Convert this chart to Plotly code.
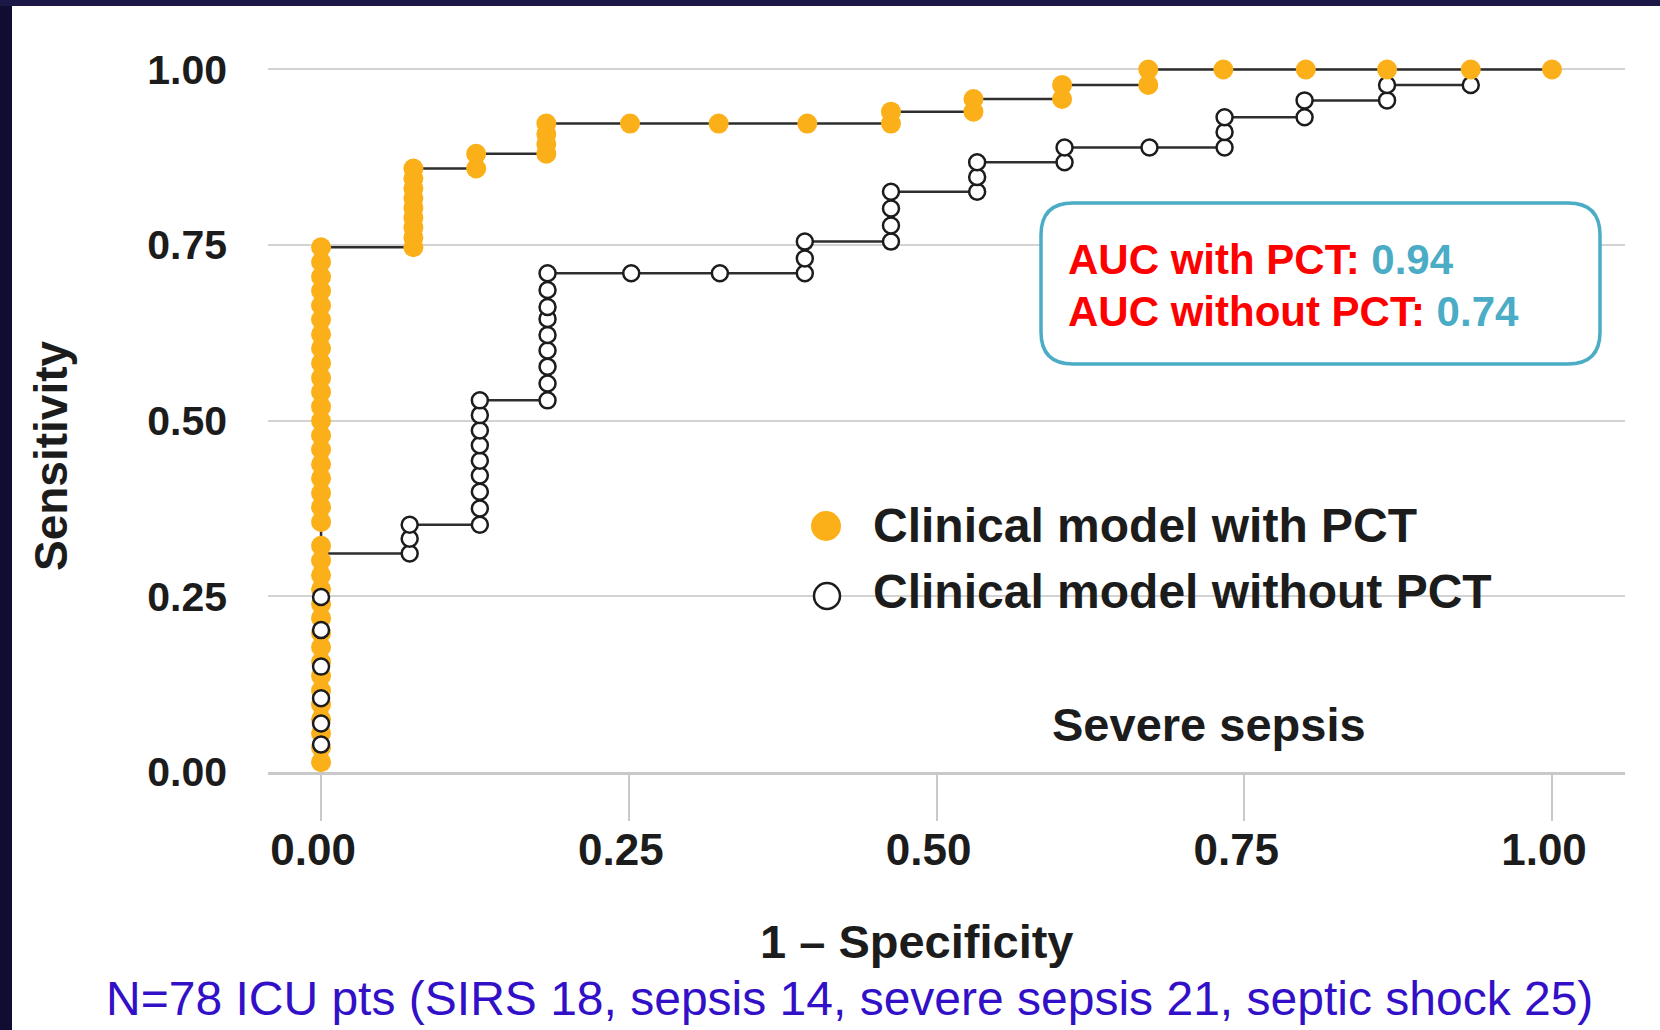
import plotly.graph_objects as go

# ---------------------------------------------------------------------------
# ROC data: each 1 - specificity step and the sensitivities plotted there
# ---------------------------------------------------------------------------
with_pct_fpr = [0.000, 0.075, 0.126, 0.183, 0.251, 0.323, 0.395, 0.463,
                0.530, 0.602, 0.672, 0.733, 0.800, 0.866, 0.934, 1.000]
with_pct_tpr = [
    [0.014, 0.035, 0.055, 0.075, 0.096, 0.116, 0.137, 0.157, 0.178, 0.198,
     0.219, 0.239, 0.260, 0.280, 0.301, 0.322,
     0.356, 0.377, 0.397, 0.418, 0.438, 0.459, 0.479, 0.500, 0.520, 0.541,
     0.561, 0.582, 0.603, 0.623, 0.644, 0.664, 0.685, 0.705, 0.726, 0.747],
    [0.747, 0.761, 0.775, 0.789, 0.803, 0.817, 0.831, 0.845, 0.859],
    [0.859, 0.880],
    [0.880, 0.894, 0.908, 0.923],
    [0.923],
    [0.923],
    [0.923],
    [0.923, 0.940],
    [0.940, 0.958],
    [0.958, 0.978],
    [0.978, 1.000],
    [1.000],
    [1.000],
    [1.000],
    [1.000],
    [1.000],
]

without_pct_fpr = [0.000, 0.072, 0.129, 0.184, 0.252, 0.324, 0.393, 0.463,
                   0.533, 0.604, 0.673, 0.734, 0.799, 0.866, 0.934]
without_pct_tpr = [
    [0.039, 0.069, 0.105, 0.150, 0.202, 0.249],
    [0.311, 0.332, 0.352],
    [0.352, 0.375, 0.399, 0.422, 0.443, 0.465, 0.486, 0.508, 0.529],
    [0.529, 0.553, 0.577, 0.600, 0.622, 0.645, 0.662, 0.686, 0.710],
    [0.710],
    [0.710],
    [0.710, 0.731, 0.755],
    [0.755, 0.778, 0.802, 0.826],
    [0.826, 0.847, 0.868],
    [0.868, 0.889],
    [0.889],
    [0.889, 0.911, 0.932],
    [0.932, 0.956],
    [0.956, 0.978],
    [0.978],
]

tick_vals = [0.00, 0.25, 0.50, 0.75, 1.00]
tick_text = ["0.00", "0.25", "0.50", "0.75", "1.00"]

series_names = ["Clinical model with PCT", "Clinical model without PCT"]
auc_names = ["AUC with PCT: ", "AUC without PCT: "]
auc_values = ["0.94", "0.74"]

ORANGE = "#FBB01A"
DARK = "#1c1c1c"
STEP_LINE = "#2e2e2e"
GRID = "#d3d3d3"
TEAL = "#4BACC6"

# ---------------------------------------------------------------------------
# Page geometry (pixels)
# ---------------------------------------------------------------------------
W, H = 1660, 1030
PL, PR, PT, PB = 268, 1625, 30, 772
X_RANGE = [-0.0431, 1.0593]
Y_RANGE = [0.0, 1.0562]


def px_x(px):
    return (px - PL) / (PR - PL)


def px_y(py):
    return (PB - py) / (PB - PT)


def flatten(fprs, tprs):
    xs, ys = [], []
    for f, col in zip(fprs, tprs):
        for t in col:
            xs.append(f)
            ys.append(t)
    return xs, ys


wx, wy = flatten(with_pct_fpr, with_pct_tpr)
nx, ny = flatten(without_pct_fpr, without_pct_tpr)

fig = go.Figure()

# step curves underneath the points
for xs, ys in ((wx, wy), (nx, ny)):
    fig.add_trace(go.Scatter(
        x=xs, y=ys, mode="lines",
        line=dict(color=STEP_LINE, width=2.5, shape="vh"),
        hoverinfo="skip", showlegend=False, cliponaxis=False))

orange_marker = dict(size=20, color=ORANGE, line=dict(width=0))

# with-PCT points on the vertical axis
fig.add_trace(go.Scatter(
    x=[x for x in wx if x == 0], y=[y for x, y in zip(wx, wy) if x == 0],
    mode="markers", marker=orange_marker, name=series_names[0],
    showlegend=False, cliponaxis=False))

# without-PCT open circles
fig.add_trace(go.Scatter(
    x=nx, y=ny, mode="markers",
    marker=dict(size=16, color="white", line=dict(color=DARK, width=2.5)),
    name=series_names[1], showlegend=False, cliponaxis=False))

# remaining with-PCT points
fig.add_trace(go.Scatter(
    x=[x for x in wx if x > 0], y=[y for x, y in zip(wx, wy) if x > 0],
    mode="markers", marker=orange_marker, name=series_names[0],
    showlegend=False, cliponaxis=False))

bold = dict(family="Liberation Sans, Arial, sans-serif", color=DARK, weight="bold")

shapes = []

# dark slide frame along the left and top edges
shapes.append(dict(type="rect", xref="paper", yref="paper",
                   x0=px_x(0), x1=px_x(12), y0=px_y(H), y1=px_y(0),
                   fillcolor="#100c32", line=dict(width=0), layer="below"))
shapes.append(dict(type="rect", xref="paper", yref="paper",
                   x0=px_x(0), x1=px_x(W), y0=px_y(6), y1=px_y(0),
                   fillcolor="#1b1848", line=dict(width=0), layer="below"))

# legend background hiding the grid behind it
shapes.append(dict(type="rect", xref="paper", yref="paper",
                   x0=px_x(770), x1=px_x(PR + 2), y0=px_y(750), y1=px_y(470),
                   fillcolor="white", line=dict(width=0), layer="between"))

# legend keys
shapes.append(dict(type="circle", xref="paper", yref="paper",
                   x0=px_x(811), x1=px_x(841), y0=px_y(541), y1=px_y(511),
                   fillcolor=ORANGE, line=dict(width=0)))
shapes.append(dict(type="circle", xref="paper", yref="paper",
                   x0=px_x(814), x1=px_x(840), y0=px_y(609), y1=px_y(583),
                   fillcolor="white", line=dict(color=DARK, width=2.5)))


def rounded_box(x0, y0, x1, y1, r):
    pts = [
        ("M", [(x0 + r, y0)]),
        ("L", [(x1 - r, y0)]),
        ("Q", [(x1, y0), (x1, y0 + r)]),
        ("L", [(x1, y1 - r)]),
        ("Q", [(x1, y1), (x1 - r, y1)]),
        ("L", [(x0 + r, y1)]),
        ("Q", [(x0, y1), (x0, y1 - r)]),
        ("L", [(x0, y0 + r)]),
        ("Q", [(x0, y0), (x0 + r, y0)]),
    ]
    out = []
    for cmd, coords in pts:
        out.append(cmd + " " + " ".join(f"{px_x(a):.5f},{px_y(b):.5f}" for a, b in coords))
    return " ".join(out) + " Z"


# AUC call-out box
shapes.append(dict(type="path", xref="paper", yref="paper",
                   path=rounded_box(1041, 203, 1600, 364, 32),
                   fillcolor="white", line=dict(color=TEAL, width=3.5),
                   layer="above"))

annotations = []


def label(text, px, py, size, font=None, xanchor="center", **kw):
    f = dict(bold if font is None else font)
    f["size"] = size
    annotations.append(dict(text=text, x=px_x(px), y=px_y(py), xref="paper", yref="paper",
                            xanchor=xanchor, yanchor="middle", showarrow=False,
                            font=f, **kw))


# legend text
label(series_names[0], 871, 525, 48, xanchor="left")
label(series_names[1], 871, 591, 48, xanchor="left")
label("Severe sepsis", 1209, 724, 47)

# axis titles
label("Sensitivity", 51, 456, 46, textangle=-90)
label("1 \u2013 Specificity", 917, 941, 47)

# AUC text, one line per model
auc_font = dict(family="Liberation Sans, Arial, sans-serif", color="#FF0000", weight="bold")
for i, (n, v) in enumerate(zip(auc_names, auc_values)):
    label(f"<span style='color:#FF0000'>{n}</span><span style='color:{TEAL}'>{v}</span>",
          1066, 259.5 + 52 * i, 42, font=auc_font, xanchor="left")

# footnote
label("N=78 ICU pts (SIRS 18, sepsis 14, severe sepsis 21, septic shock 25)",
      849, 998, 48,
      font=dict(family="Liberation Sans, Arial, sans-serif", color="#3210C8"))

fig.update_layout(
    width=W, height=H, autosize=False,
    margin=dict(l=PL, r=W - PR, t=PT, b=H - PB, pad=0),
    paper_bgcolor="white", plot_bgcolor="white",
    showlegend=False,
    shapes=shapes, annotations=annotations,
    xaxis=dict(range=X_RANGE, tickvals=tick_vals, ticktext=tick_text,
               showgrid=False, zeroline=False,
               showline=True, linecolor="#c9c9c9", linewidth=3,
               ticks="outside", ticklen=46, tickwidth=2, tickcolor="#c9c9c9",
               ticklabelstandoff=-9, ticklabelshift=-8,
               tickfont=dict(bold, size=44), fixedrange=True),
    yaxis=dict(range=Y_RANGE, tickvals=tick_vals, ticktext=tick_text,
               showgrid=True, gridcolor=GRID, gridwidth=2, zeroline=False,
               showline=False, ticks="", ticklabelstandoff=40,
               tickfont=dict(bold, size=41), fixedrange=True),
)

fig.write_html("out.html")
